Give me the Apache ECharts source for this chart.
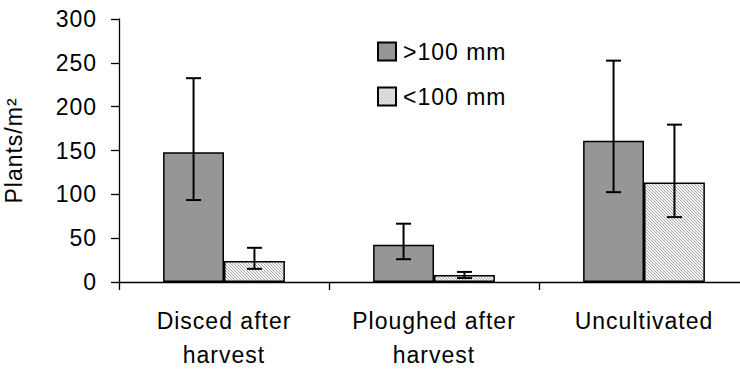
<!DOCTYPE html>
<html>
<head>
<meta charset="utf-8">
<script src="https://cdn.jsdelivr.net/npm/echarts@6/dist/echarts.min.js"></script>
<style>
  html, body { margin: 0; padding: 0; background: #fff; }
  #chart { width: 740px; height: 369px; }
  #chart svg text { letter-spacing: 1px; }
</style>
</head>
<body>
<div id="chart"></div>
<script>
// Plant density per treatment, two size classes, with error bars
const categories = ['Disced after\nharvest', 'Ploughed after\nharvest', 'Uncultivated'];
const seriesNames = ['>100 mm', '<100 mm'];
const largePlants = [148, 42.5, 161];
const largeHigh = [232.5, 66.5, 252.5];
const largeLow = [93.5, 26, 102.5];
const smallPlants = [24, 8, 113.5];
const smallHigh = [39, 11.5, 179.5];
const smallLow = [15, 4.5, 74];
const yTicks = [0, 50, 100, 150, 200, 250, 300];

const FONT = '"Liberation Sans", Arial, sans-serif';
const FONT_SIZE = 23;
const CAT_GAP = 0.42;

// Fine diagonal hatch used for the <100 mm bars
function hatchTile() {
  const c = document.createElement('canvas');
  c.width = 3; c.height = 3;
  const ctx = c.getContext('2d');
  ctx.fillStyle = '#f4f4f4';
  ctx.fillRect(0, 0, 3, 3);
  ctx.fillStyle = '#a8a8a8';
  for (let i = 0; i < 3; i++) ctx.fillRect(i, i, 1, 1);
  return c.toDataURL();
}
const hatch = { image: hatchTile(), repeat: 'repeat' };

function errorSeries(name, high, low, side) {
  return {
    type: 'custom',
    name: name + ' error',
    z: 5,
    silent: true,
    data: categories.map((c, i) => [i, low[i], high[i]]),
    renderItem: function (params, api) {
      const i = api.value(0);
      const catW = api.size([1, 0])[0];
      const barW = catW * (1 - CAT_GAP) / 2;
      const lowPt = api.coord([i, api.value(1)]);
      const highPt = api.coord([i, api.value(2)]);
      const x = lowPt[0] + side * barW / 2;
      const half = 7.5;
      const style = { stroke: '#000', lineWidth: 2, fill: null };
      return {
        type: 'group',
        children: [
          { type: 'line', shape: { x1: x, y1: highPt[1], x2: x, y2: lowPt[1] }, style },
          { type: 'line', shape: { x1: x - half, y1: highPt[1], x2: x + half, y2: highPt[1] }, style },
          { type: 'line', shape: { x1: x - half, y1: lowPt[1], x2: x + half, y2: lowPt[1] }, style }
        ]
      };
    }
  };
}

const chart = echarts.init(document.getElementById('chart'), null, { renderer: 'svg' });
chart.setOption({
  animation: false,
  backgroundColor: '#fff',
  textStyle: { fontFamily: FONT, color: '#000' },
  grid: { left: 119, right: -9, top: 19, bottom: 87, containLabel: false, outerBoundsMode: 'none' },
  legend: {
    orient: 'vertical',
    left: 377,
    top: 40,
    padding: 0,
    itemWidth: 18,
    itemHeight: 18,
    itemGap: 22,
    icon: 'rect',
    data: seriesNames,
    textStyle: { fontFamily: FONT, fontSize: FONT_SIZE, color: '#000', padding: [0, 0, 0, 2] }
  },
  xAxis: {
    type: 'category',
    data: categories,
    boundaryGap: true,
    axisLine: { lineStyle: { color: '#000', width: 1.3 } },
    axisTick: { show: true, length: 8, lineStyle: { color: '#000', width: 1.3 } },
    axisLabel: { interval: 0, fontSize: FONT_SIZE, lineHeight: 34, margin: 22, color: '#000', fontFamily: FONT },
    splitLine: { show: false }
  },
  yAxis: {
    type: 'value',
    min: yTicks[0],
    max: yTicks[yTicks.length - 1],
    interval: yTicks[1] - yTicks[0],
    name: 'Plants/m²',
    nameLocation: 'middle',
    nameGap: 94,
    nameTextStyle: { fontSize: FONT_SIZE, color: '#000', fontFamily: FONT },
    axisLine: { show: true, lineStyle: { color: '#000', width: 1.3 } },
    axisTick: { show: true, inside: false, length: 8, lineStyle: { color: '#000', width: 1.3 } },
    axisLabel: { fontSize: FONT_SIZE, margin: 22, color: '#000', fontFamily: FONT },
    splitLine: { show: false }
  },
  series: [
    {
      type: 'bar',
      name: seriesNames[0],
      data: largePlants,
      barGap: '0%',
      barCategoryGap: (CAT_GAP * 100) + '%',
      itemStyle: { color: '#969696', borderColor: '#000', borderWidth: 1.5 }
    },
    {
      type: 'bar',
      name: seriesNames[1],
      data: smallPlants,
      barGap: '0%',
      barCategoryGap: (CAT_GAP * 100) + '%',
      itemStyle: { color: hatch, borderColor: '#000', borderWidth: 1.5 }
    },
    errorSeries(seriesNames[0], largeHigh, largeLow, -1),
    errorSeries(seriesNames[1], smallHigh, smallLow, 1)
  ]
});
</script>
</body>
</html>
